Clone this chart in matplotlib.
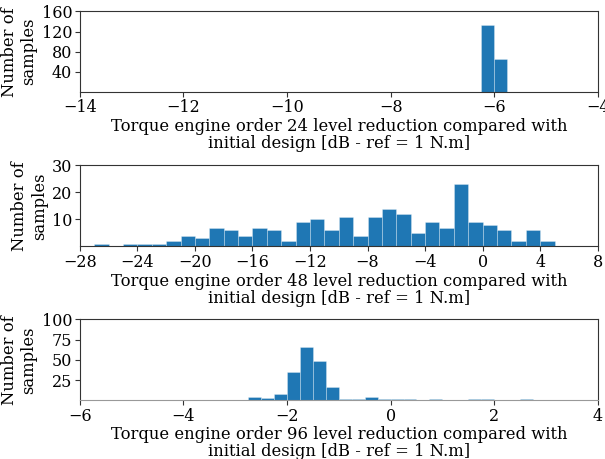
import numpy as np
import matplotlib
matplotlib.use("Agg")
import matplotlib.pyplot as plt

plt.rcParams["font.family"] = "DejaVu Serif"
plt.rcParams["font.size"] = 11.5

# order 24: bin edges and counts
edges24 = [-6.25, -6.0, -5.75]
counts24 = [134, 66]

# order 48: 1 dB bins from -27 to 5
edges48 = list(range(-27, 6))
counts48 = [1, 0, 1, 1, 1, 2, 4, 3, 7, 6, 4, 7, 6, 2, 9, 10,
            6, 11, 4, 11, 14, 12, 5, 9, 7, 23, 9, 8, 6, 2, 6, 2]

# order 96: 0.25 dB bins from -6 to 4
edges96 = list(np.linspace(-6.0, 4.0, 41))
counts96 = [0] * 13 + [4, 3, 8, 35, 66, 48, 17, 2, 1, 4, 1, 1, 1,
                       0, 1, 0, 0, 1, 1, 0, 0, 1, 0, 0, 0, 0, 0]

panels = [
    (edges24, counts24, 24, (-14, -4), np.arange(-14, -3, 2), (0, 160), [40, 80, 120, 160]),
    (edges48, counts48, 48, (-28, 8), np.arange(-28, 9, 4), (0, 30), [10, 20, 30]),
    (edges96, counts96, 96, (-6, 4), np.arange(-6, 5, 2), (0, 100), [25, 50, 75, 100]),
]
boxes = [[0.132, 0.800, 0.856, 0.175],
         [0.132, 0.463, 0.856, 0.177],
         [0.132, 0.128, 0.856, 0.176]]

fig = plt.figure(figsize=(6.05, 4.59), dpi=100)
for (edges, counts, order, xlim, xt, ylim, yt), box in zip(panels, boxes):
    ax = fig.add_axes(box)
    ax.hist(edges[:-1], bins=edges, weights=counts, color="#1f77b4",
            edgecolor=(1, 1, 1, 0.5), linewidth=0.4)
    ax.set_xlim(*xlim)
    ax.set_ylim(*ylim)
    ax.set_xticks(xt)
    ax.set_yticks(yt)
    for s in ax.spines.values():
        s.set_color("#333333")
    ax.tick_params(colors="#333333", labelcolor="black", pad=2)
    ax.set_ylabel("Number of\nsamples", fontsize=11.8, labelpad=3)
    ax.set_xlabel("Torque engine order %d level reduction compared with\n"
                  "initial design [dB - ref = 1 N.m]" % order, fontsize=11.8,
                  labelpad=1, linespacing=1.0)
    if order == 96:
        ax.spines["bottom"].set_color("#999999")

fig.savefig("out.png", dpi=100)
